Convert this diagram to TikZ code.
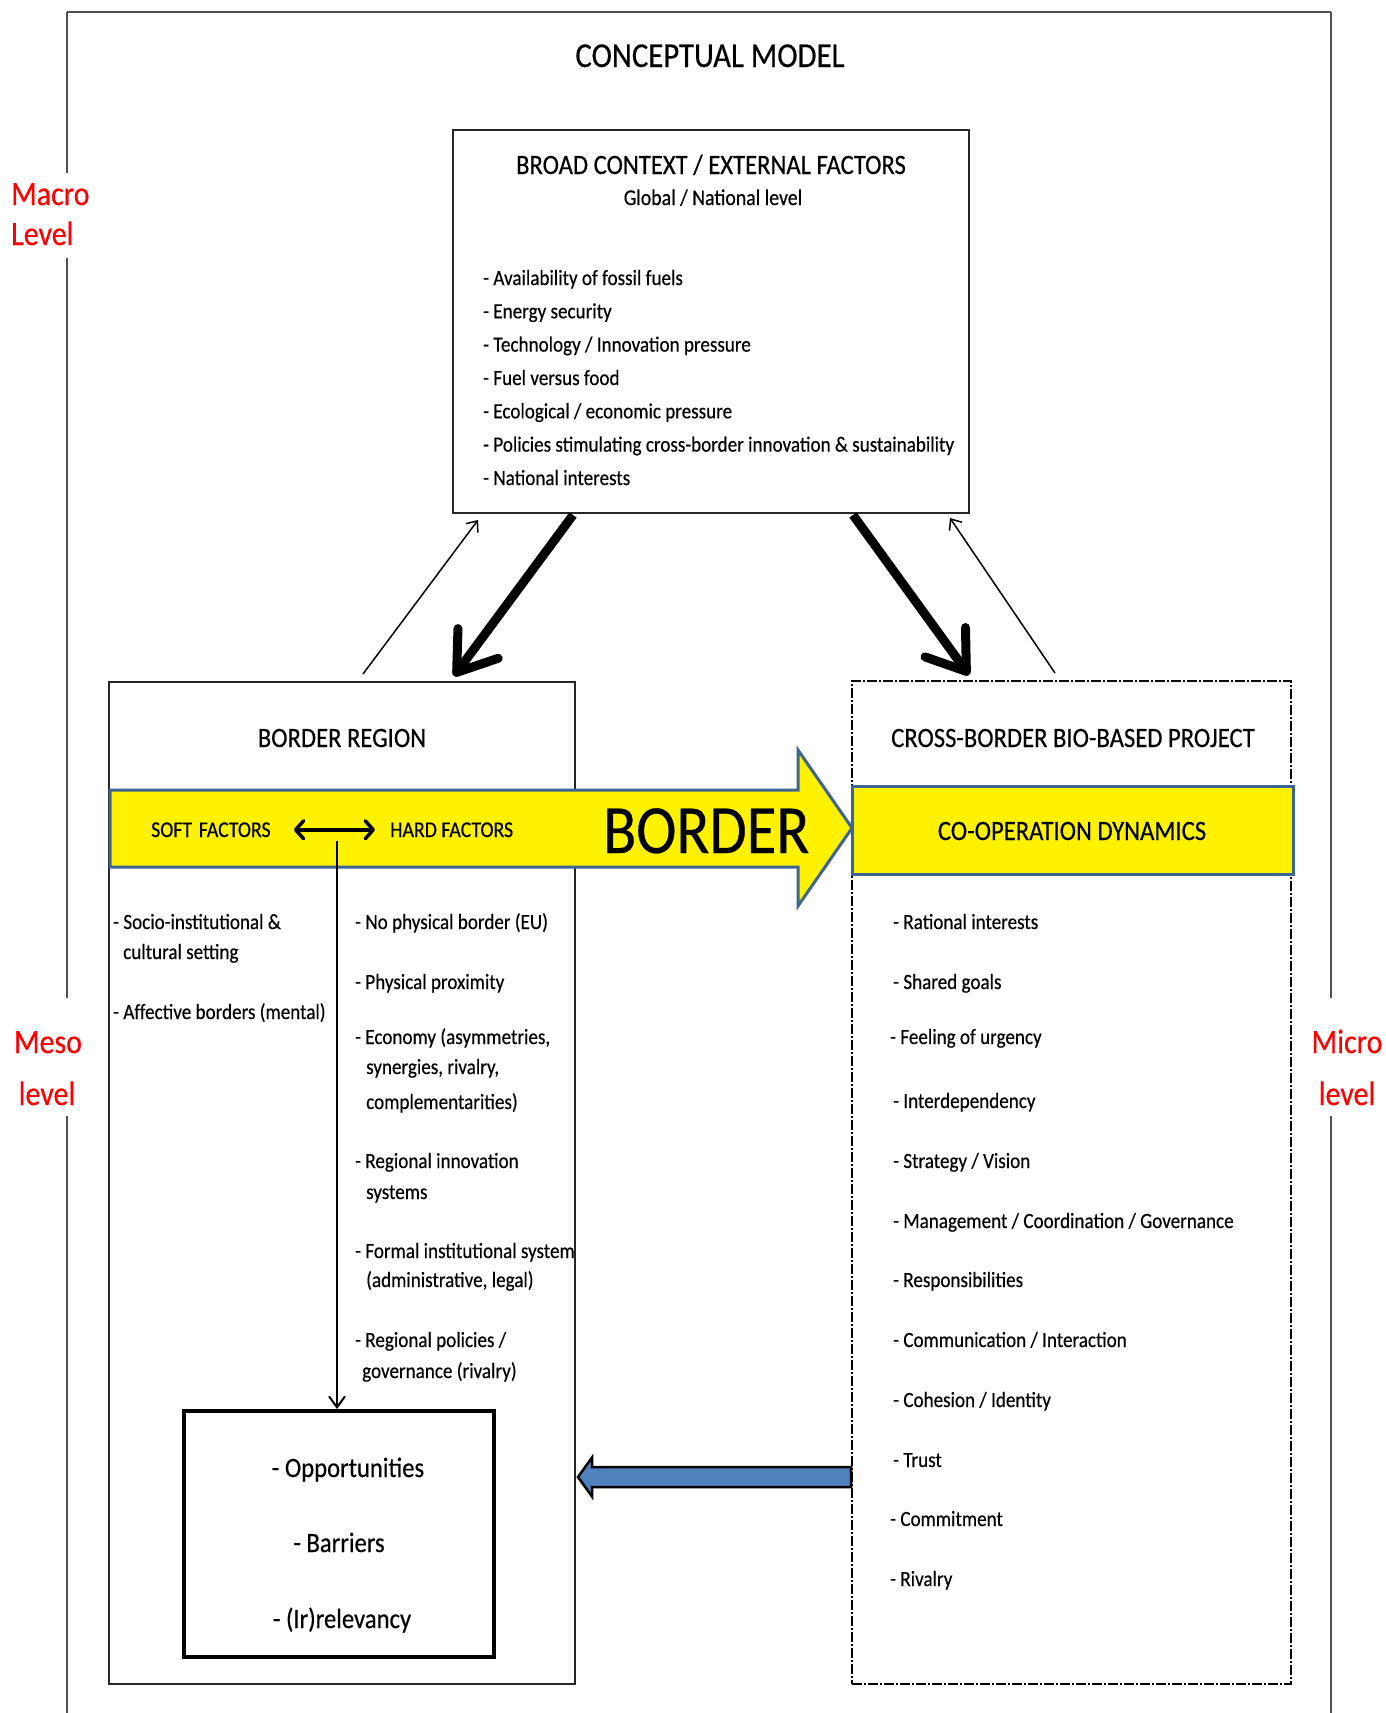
\documentclass[tikz,border=0pt]{standalone}
\usepackage{fontspec}
\setmainfont{Carlito}[FakeStretch=0.88, FakeBold=0.4]
\usetikzlibrary{arrows.meta}
\definecolor{shapeblue}{RGB}{62,100,150}
\definecolor{fillblue}{RGB}{79,129,189}
\definecolor{framegray}{RGB}{80,80,80}
\begin{document}
\begin{tikzpicture}[x=1pt,y=-1pt,
  every node/.style={inner sep=0pt, font=\fontsize{21.7}{26}\selectfont},
  item/.style={anchor=base west},
  heading/.style={anchor=base, font=\fontsize{28}{32}\selectfont},
  levellabel/.style={text=red, font=\fontsize{34}{40}\selectfont},
  box/.style={draw=black!85, line width=1.3pt},
  framestyle/.style={draw=framegray, line width=1.2pt},
  thickarrow/.style={line width=9pt, -{Straight Barb[length=36pt,width=50pt,round]}},
  thinarrow/.style={line width=1.5pt, -{Straight Barb[length=9pt,width=15pt]}},
  yellowshape/.style={draw=shapeblue, line width=3pt, fill=yellow},
  factor/.style={anchor=base west, font=\fontsize{22.5}{26}\selectfont},
  outcomeitem/.style={anchor=base, font=\fontsize{28}{32}\selectfont}
]
\useasboundingbox (0,0) rectangle (1386,1713);

% outer frame (open at the bottom, broken by the level labels)
\draw[framegray, line width=2pt] (67,12) -- (1331,12);
\draw[framestyle] (67,12) -- (67,173);
\draw[framestyle] (67,258) -- (67,998);
\draw[framestyle] (67,1116) -- (67,1713);
\draw[framestyle] (1331,12) -- (1331,998);
\draw[framestyle] (1331,1116) -- (1331,1713);

% level labels
\node[levellabel, anchor=base west] (macro) at (11,205) {Macro};
\node[levellabel, anchor=base west] (macrolvl) at (11,245) {Level};
\node[levellabel, anchor=base] (meso) at (48,1053) {Meso};
\node[levellabel, anchor=base] (mesolvl) at (47,1105) {level};
\node[levellabel, anchor=base] (micro) at (1347,1053) {Micro};
\node[levellabel, anchor=base] (microlvl) at (1347,1105) {level};

% title
\node[anchor=base, font=\fontsize{35}{42}\selectfont] (title) at (710,67) {CONCEPTUAL MODEL};

% broad context box
\node[box, minimum width=516pt, minimum height=383pt] (broad) at (711,321.5) {};
\node[heading] (broadhead) at (711,174) {BROAD CONTEXT / EXTERNAL FACTORS};
\node[anchor=base, font=\fontsize{22.5}{26}\selectfont] (broadsub) at (713,205) {Global / National level};
\node[item] (b1) at (483,285) {- Availability of fossil fuels};
\node[item] (b2) at (483,318.3) {- Energy security};
\node[item] (b3) at (483,351.6) {- Technology / Innovation pressure};
\node[item] (b4) at (483,385) {- Fuel versus food};
\node[item] (b5) at (483,418.3) {- Ecological / economic pressure};
\node[item] (b6) at (483,451.6) {- Policies stimulating cross-border innovation \& sustainability};
\node[item] (b7) at (483,485) {- National interests};

% border region and project boxes
\node[box, minimum width=466pt, minimum height=1002pt] (region) at (342,1183) {};
\node[draw=black, line width=1.8pt, dash pattern=on 10pt off 2pt on 2pt off 2pt,
      minimum width=439pt, minimum height=1003pt] (project) at (1071.5,1182.5) {};
\node[heading] (regionhead) at (342,747) {BORDER REGION};
\node[heading] (projecthead) at (1073,747) {CROSS-BORDER BIO-BASED PROJECT};

% connectors between the context box and the two lower boxes
\coordinate (lt1) at (573,515);
\coordinate (lt2) at (454,676);
\coordinate (rt1) at (853,515);
\coordinate (rt2) at (969,675);
\coordinate (ln1) at (363,674);
\coordinate (ln2) at (478,520);
\coordinate (rn1) at (1055,673);
\coordinate (rn2) at (950,518);
\draw[thickarrow] (lt1) -- (lt2);
\draw[thickarrow] (rt1) -- (rt2);
\draw[thinarrow] (ln1) -- (ln2);
\draw[thinarrow] (rn1) -- (rn2);

% the border arrow
\draw[yellowshape, line join=miter] (110,790) -- (798,790) -- (798,750) -- (852,828)
  -- (798,906) -- (798,867) -- (110,867) -- cycle;
\node[anchor=base west, font=\fontsize{69}{78}\selectfont] (border) at (603,853) {BORDER};
\node[yellowshape, minimum width=441pt, minimum height=88pt] (coop) at (1072.5,830) {};
\node[heading] (coophead) at (1072,840) {CO-OPERATION DYNAMICS};

\node[factor] (soft) at (151,837) {SOFT\hspace{0.3em}FACTORS};
\node[factor] (hard) at (390,837) {HARD FACTORS};
\draw[line width=3.5pt, {Straight Barb[length=8pt,width=18pt,round]}-{Straight Barb[length=8pt,width=18pt,round]}]
  ([xshift=23pt]soft.east) -- ([xshift=-15pt]hard.west);

% soft factors
\node[item] (s1) at (113,929) {- Socio-institutional \&};
\node[item] (s1b) at (123,959) {cultural setting};
\node[item] (s2) at (113,1019) {- Affective borders (mental)};

% hard factors
\node[item] (h1) at (355,929) {- No physical border (EU)};
\node[item] (h2) at (355,989) {- Physical proximity};
\node[item] (h3) at (355,1044) {- Economy (asymmetries,};
\node[item] (h3b) at (366,1074) {synergies, rivalry,};
\node[item] (h3c) at (366,1109) {complementarities)};
\node[item] (h4) at (355,1168) {- Regional innovation};
\node[item] (h4b) at (366,1199) {systems};
\node[item] (h5) at (355,1258) {- Formal institutional system};
\node[item] (h5b) at (366,1287) {(administrative, legal)};
\node[item] (h6) at (355,1347) {- Regional policies /};
\node[item] (h6b) at (362,1378) {governance (rivalry)};

% co-operation dynamics
\node[item] (c1) at (893,929) {- Rational interests};
\node[item] (c2) at (893,989) {- Shared goals};
\node[item] (c3) at (890,1044) {- Feeling of urgency};
\node[item] (c4) at (893,1108) {- Interdependency};
\node[item] (c5) at (893,1168) {- Strategy / Vision};
\node[item] (c6) at (893,1228) {- Management / Coordination / Governance};
\node[item] (c7) at (893,1287) {- Responsibilities};
\node[item] (c8) at (893,1347) {- Communication / Interaction};
\node[item] (c9) at (893,1407) {- Cohesion / Identity};
\node[item] (c10) at (893,1467) {- Trust};
\node[item] (c11) at (890,1526) {- Commitment};
\node[item] (c12) at (890,1586) {- Rivalry};

% outcome box
\node[draw=black, line width=4pt, minimum width=310pt, minimum height=246pt] (outcome) at (338.5,1534) {};
\node[outcomeitem] (o1) at (348,1477) {- Opportunities};
\node[outcomeitem] (o2) at (339,1552) {- Barriers};
\node[outcomeitem] (o3) at (342,1628) {- (Ir)relevancy};

\coordinate (vstart) at (337,841);
\draw[line width=2pt, -{Straight Barb[length=11pt,width=16pt]}] (vstart) -- (vstart |- outcome.north);

% feedback arrow from the project to the outcome box
\draw[draw=black, line width=2.5pt, fill=fillblue, line join=miter]
  (project.west |- 0,1467) -- (592,1467) -- (592,1457.5) -- (578,1477)
  -- (592,1496.5) -- (592,1487) -- (project.west |- 0,1487) -- cycle;
\end{tikzpicture}
\end{document}
